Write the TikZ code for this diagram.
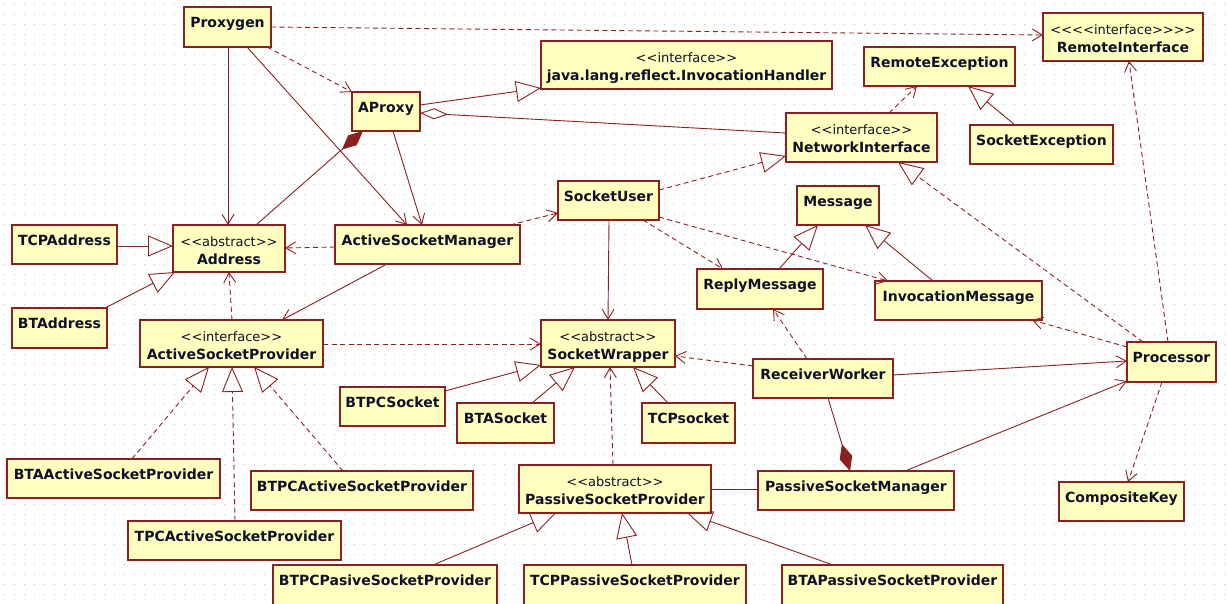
\documentclass[tikz,border=0pt]{standalone}
\usepackage{fontspec}
\newfontfamily\umlfont{DejaVu Sans}
\usetikzlibrary{arrows.meta,calc}
\definecolor{umlred}{RGB}{140,32,32}
\definecolor{umlfill}{RGB}{255,255,192}
\definecolor{umltext}{RGB}{16,16,40}
\definecolor{griddot}{RGB}{195,195,195}
% class box contents: width, height, (stereotype,) name
\newcommand{\umlone}[3]{\parbox[c][#2pt][t]{#1pt}{\centering\rule{0pt}{20.5pt}#3}}
\newcommand{\umltwo}[4]{\parbox[c][#2pt][t]{#1pt}{\centering\rule{0pt}{21pt}{\mdseries\fontsize{13}{18}\selectfont #3}\\#4}}
\tikzset{
  cls/.style={draw=umlred, fill=umlfill, line width=1.5pt, inner sep=0pt, outer sep=0pt,
    anchor=north west, text=umltext, font=\umlfont\bfseries\fontsize{14}{18}\selectfont},
  link/.style={draw=umlred, line width=0.9pt},
  dashy/.style={dash pattern=on 5pt off 3.5pt},
  nav/.style={link, -{Straight Barb[length=10pt,width=12pt]}},
  dep/.style={nav, dashy},
  gen/.style={link, -{Triangle[open,length=25pt,width=21pt]}},
  real/.style={gen, dashy},
  comp/.style={link, -{Diamond[length=28pt,width=13pt]}},
  aggr/.style={link, -{Diamond[open,length=28pt,width=11pt]}},
  gridrow/.style={griddot, line width=1pt, dash pattern=on 1pt off 9pt}
}
\begin{document}
\begin{tikzpicture}[x=1pt,y=-1pt]
\fill[white] (0,0) rectangle (1227,603);
\useasboundingbox (0,0) rectangle (1227,603);
% dotted drawing grid
\foreach \gy in {4,14,...,604} \draw[gridrow] (4,\gy) -- (1227,\gy);

% classes
\node[cls] (proxygen)  at (184,7)   {\umlone{87}{40}{Proxygen}};
\node[cls] (aproxy)    at (352,92)  {\umlone{68}{39}{AProxy}};
\node[cls] (invh)      at (541,41)  {\umltwo{291}{48}{<<interface>>}{java.lang.reflect.InvocationHandler}};
\node[cls] (remoteif)  at (1043,13) {\umltwo{160}{48}{<<<<interface>>>>}{RemoteInterface}};
\node[cls] (remoteexc) at (864,47)  {\umlone{151}{39}{RemoteException}};
\node[cls] (netif)     at (786,113) {\umltwo{151}{49}{<<interface>>}{NetworkInterface}};
\node[cls] (sockexc)   at (970,125) {\umlone{143}{39}{SocketException}};
\node[cls] (socketuser) at (558,181) {\umlone{101}{39}{SocketUser}};
\node[cls] (message)   at (797,186) {\umlone{82}{39}{Message}};
\node[cls] (tcpaddr)   at (12,225)  {\umlone{105}{39}{TCPAddress}};
\node[cls] (address)   at (173,225) {\umltwo{112}{47}{<<abstract>>}{Address}};
\node[cls] (asm)       at (335,225) {\umlone{185}{39}{ActiveSocketManager}};
\node[cls] (replymsg)  at (697,269) {\umlone{126}{40}{ReplyMessage}};
\node[cls] (invmsg)    at (875,281) {\umlone{167}{39}{InvocationMessage}};
\node[cls] (btaddr)    at (12,308)  {\umlone{95}{40}{BTAddress}};
\node[cls] (asp)       at (140,320) {\umltwo{183}{47}{<<interface>>}{ActiveSocketProvider}};
\node[cls] (sw)        at (541,320) {\umltwo{134}{47}{<<abstract>>}{SocketWrapper}};
\node[cls] (processor) at (1127,342) {\umlone{89}{40}{Processor}};
\node[cls] (rw)        at (753,359) {\umlone{140}{39}{ReceiverWorker}};
\node[cls] (btpcsock)  at (340,387) {\umlone{105}{39}{BTPCSocket}};
\node[cls] (btasock)   at (457,403) {\umlone{97}{40}{BTASocket}};
\node[cls] (tcpsock)   at (642,403) {\umlone{93}{40}{TCPsocket}};
\node[cls] (btaasp)    at (7,459)   {\umlone{213}{39}{BTAActiveSocketProvider}};
\node[cls] (psp)       at (519,465) {\umltwo{192}{48}{<<abstract>>}{PassiveSocketProvider}};
\node[cls] (btpcasp)   at (251,471) {\umlone{222}{39}{BTPCActiveSocketProvider}};
\node[cls] (psm)       at (758,471) {\umlone{196}{39}{PassiveSocketManager}};
\node[cls] (compkey)   at (1059,482) {\umlone{125}{39}{CompositeKey}};
\node[cls] (tpcasp)    at (128,521) {\umlone{213}{39}{TPCActiveSocketProvider}};
\node[cls] (btpcpsp)   at (273,565) {\umlone{224}{42}{BTPCPasiveSocketProvider}};
\node[cls] (tcppsp)    at (524,565) {\umlone{222}{42}{TCPPassiveSocketProvider}};
\node[cls] (btapsp)    at (782,565) {\umlone{221}{42}{BTAPassiveSocketProvider}};

% Proxygen
\draw[dep] (proxygen.east) -- ($(remoteif.north west)+(0,22)$);
\draw[dep] ($(proxygen.north west)+(83,40)$) -- (aproxy.north west);
\draw[nav] ($(proxygen.north west)+(44,40)$) -- ($(address.north west)+(55,0)$);
\draw[nav] ($(proxygen.north west)+(63,40)$) -- ($(asm.north west)+(72,0)$);

% AProxy
\draw[nav] ($(aproxy.north west)+(41,39)$) -- ($(asm.north west)+(87,0)$);
\draw[comp] ($(address.north west)+(83,0)$) -- ($(aproxy.north west)+(11,39)$);
\draw[gen] ($(aproxy.north west)+(68,13)$) -- ($(invh.north west)+(0,47)$);
\draw[aggr] ($(netif.north west)+(0,20)$) -- ($(aproxy.north west)+(68,21)$);

% remote side
\draw[dep] ($(netif.north west)+(103,0)$) -- ($(remoteexc.north west)+(53,39)$);
\draw[gen] ($(sockexc.north west)+(45,0)$) -- ($(remoteexc.north west)+(104,39)$);
\draw[real] ($(socketuser.north west)+(101,9)$) -- ($(netif.north west)+(0,43)$);
\draw[real] ($(processor.north west)+(16,0)$) -- ($(netif.north west)+(112,49)$);
\draw[dep] ($(processor.north west)+(41,0)$) -- ($(remoteif.north west)+(86,48)$);

% ActiveSocketManager
\draw[dep] ($(asm.north west)+(175,0)$) -- ($(socketuser.north west)+(0,32)$);
\draw[dep] ($(asm.north west)+(0,22)$) -- ($(address.north west)+(112,23)$);
\draw[nav] ($(asm.north west)+(52,39)$) -- ($(asp.north west)+(142,0)$);

% addresses
\draw[gen] ($(tcpaddr.north west)+(105,21)$) -- ($(address.north west)+(0,21)$);
\draw[gen] ($(btaddr.north west)+(93,0)$) -- ($(address.north west)+(2,47)$);
\draw[dep] ($(asp.north west)+(92,0)$) -- ($(address.north west)+(56,47)$);
\draw[dep] ($(asp.north west)+(183,24)$) -- ($(sw.north west)+(0,24)$);

% SocketUser
\draw[nav] ($(socketuser.north west)+(51,39)$) -- ($(sw.north west)+(67,0)$);
\draw[dep] ($(socketuser.north west)+(85,39)$) -- ($(replymsg.north west)+(26,0)$);
\draw[dep] ($(socketuser.north west)+(101,36)$) -- ($(invmsg.north west)+(13,0)$);

% messages
\draw[gen] ($(replymsg.north west)+(82,0)$) -- ($(message.north west)+(21,39)$);
\draw[gen] ($(invmsg.north west)+(58,0)$) -- ($(message.north west)+(68,39)$);
\draw[dep] ($(processor.north west)+(0,5)$) -- ($(invmsg.north west)+(157,39)$);

% ReceiverWorker
\draw[dep] ($(rw.north west)+(54,0)$) -- ($(replymsg.north west)+(76,40)$);
\draw[dep] ($(rw.north west)+(0,7)$) -- ($(sw.north west)+(134,36)$);
\draw[nav] ($(rw.north west)+(140,16)$) -- ($(processor.north west)+(0,19)$);
\draw[comp] ($(rw.north west)+(75,39)$) -- ($(psm.north west)+(92,0)$);

% PassiveSocketManager and Processor
\draw[nav] ($(psm.north west)+(147,0)$) -- ($(processor.north west)+(0,39)$);
\draw[link] ($(psp.north west)+(192,24)$) -- ($(psm.north west)+(0,18)$);
\draw[dep] ($(processor.north west)+(35,40)$) -- ($(compkey.north west)+(69,0)$);

% SocketWrapper family
\draw[dep] ($(psp.north west)+(94,0)$) -- ($(sw.north west)+(69,47)$);
\draw[gen] ($(btpcsock.north west)+(105,4)$) -- ($(sw.north west)+(0,45)$);
\draw[gen] ($(btasock.north west)+(75,0)$) -- ($(sw.north west)+(34,47)$);
\draw[gen] ($(tcpsock.north west)+(26,0)$) -- ($(sw.north west)+(92,47)$);

% ActiveSocketProvider implementations
\draw[real] ($(btaasp.north west)+(125,0)$) -- ($(asp.north west)+(69,47)$);
\draw[real] ($(tpcasp.north west)+(107,0)$) -- ($(asp.north west)+(92,47)$);
\draw[real] ($(btpcasp.north west)+(92,0)$) -- ($(asp.north west)+(114,47)$);

% PassiveSocketProvider subclasses
\draw[gen] ($(btpcpsp.north west)+(160,0)$) -- ($(psp.north west)+(37,48)$);
\draw[gen] ($(tcppsp.north west)+(108,0)$) -- ($(psp.north west)+(103,48)$);
\draw[gen] ($(btapsp.north west)+(51,0)$) -- ($(psp.north west)+(168,48)$);
\end{tikzpicture}
\end{document}
